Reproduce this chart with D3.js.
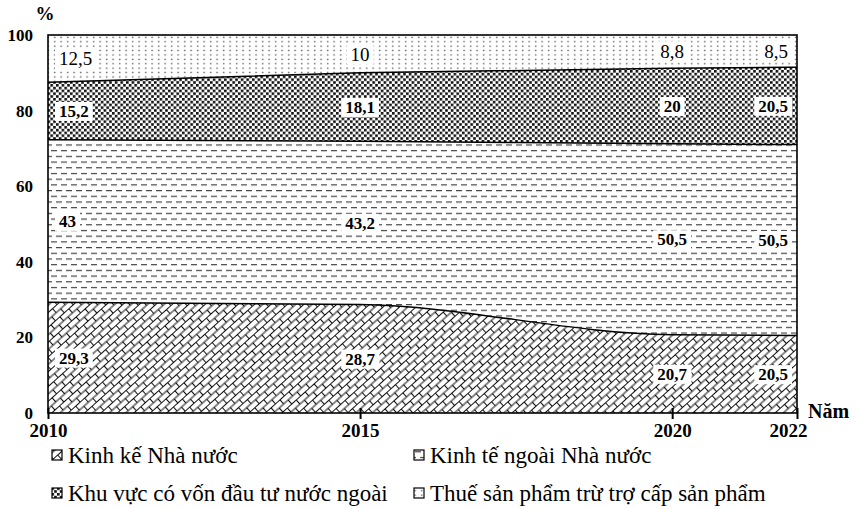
<!DOCTYPE html>
<html>
<head>
<meta charset="utf-8">
<script src="https://cdn.jsdelivr.net/npm/d3@7"></script>
<style>
  body { margin: 0; background: #fff; }
  svg { display: block; }
</style>
</head>
<body>
<script>
// ---- data ----
const years = [2010, 2015, 2020, 2022];
const stateSector = [29.3, 28.7, 20.7, 20.5];
const nonStateSector = [43, 43.2, 50.5, 50.5];
const fdiSector = [15.2, 18.1, 20, 20.5];
const productTaxes = [12.5, 10, 8.8, 8.5];
const seriesKeys = ["state", "nonstate", "fdi", "tax"];
const seriesNames = ["Kinh kế Nhà nước", "Kinh tế ngoài Nhà nước", "Khu vực có vốn đầu tư nước ngoài", "Thuế sản phẩm trừ trợ cấp sản phẩm"];
const yTicks = [0, 20, 40, 60, 80, 100];

const FONT = "'Liberation Serif', 'Times New Roman', serif";
const W = 859, H = 509;
const margin = { left: 48, right: 62, top: 35, bottom: 96 };
const x0 = margin.left, x1 = W - margin.right, y0 = H - margin.bottom, y1 = margin.top;

const svg = d3.select("body").append("svg").attr("width", W).attr("height", H)
  .style("font-family", FONT);
const defs = svg.append("defs");

// Brick pattern (state)
const pBrick = defs.append("pattern").attr("id", "p-state").attr("patternUnits", "userSpaceOnUse")
  .attr("width", 12).attr("height", 11).attr("patternTransform", "rotate(-42)");
pBrick.append("rect").attr("width", 12).attr("height", 11).attr("fill", "#fff");
pBrick.append("path").attr("d", "M0,0.5H12M0,6H12M0.5,0V6M6.5,6V11")
  .attr("stroke", "#111").attr("stroke-width", 1.1).attr("fill", "none");

// Dashed horizontal pattern (non-state)
const pDash = defs.append("pattern").attr("id", "p-nonstate").attr("patternUnits", "userSpaceOnUse")
  .attr("width", 10).attr("height", 11.4);
pDash.append("rect").attr("width", 10).attr("height", 11.4).attr("fill", "#fff");
pDash.append("path").attr("d", "M1,2.5H7M6,8.2H10M0,8.2H2")
  .attr("stroke", "#444").attr("stroke-width", 1.4).attr("fill", "none");

// Dense dots (fdi)
const pDense = defs.append("pattern").attr("id", "p-fdi").attr("patternUnits", "userSpaceOnUse")
  .attr("width", 5.6).attr("height", 5.6);
pDense.append("rect").attr("width", 5.6).attr("height", 5.6).attr("fill", "#fff");
pDense.append("rect").attr("x", 0).attr("y", 0).attr("width", 2.6).attr("height", 2.6).attr("fill", "#111");
pDense.append("rect").attr("x", 2.8).attr("y", 2.8).attr("width", 2.6).attr("height", 2.6).attr("fill", "#111");

// Sparse dots (tax)
const pSparse = defs.append("pattern").attr("id", "p-tax").attr("patternUnits", "userSpaceOnUse")
  .attr("width", 6.5).attr("height", 4.4);
pSparse.append("rect").attr("width", 6.5).attr("height", 4.4).attr("fill", "#fff");
pSparse.append("rect").attr("x", 2).attr("y", 1.5).attr("width", 1.3).attr("height", 1.3).attr("fill", "#444");

// ---- scales ----
const x = d3.scaleLinear().domain([years[0], years[years.length - 1]]).range([x0, x1]);
const y = d3.scaleLinear().domain([0, 100]).range([y0, y1]);

const table = years.map((yr, i) => ({
  year: yr, state: stateSector[i], nonstate: nonStateSector[i], fdi: fdiSector[i], tax: productTaxes[i]
}));
const series = d3.stack().keys(seriesKeys)(table);

const area = d3.area().x(d => x(d.data.year)).y0(d => y(d[0])).y1(d => y(d[1])).curve(d3.curveMonotoneX);
const line = d3.line().x(d => x(d.data.year)).y(d => y(d[1])).curve(d3.curveMonotoneX);

svg.append("g").selectAll("path").data(series).join("path")
  .attr("d", area).attr("fill", d => `url(#p-${d.key})`);

svg.append("g").selectAll("path").data(series.slice(0, 3)).join("path")
  .attr("d", line).attr("fill", "none").attr("stroke", "#000").attr("stroke-width", 1.5);

// frame
svg.append("rect").attr("x", x0).attr("y", y1).attr("width", x1 - x0).attr("height", y0 - y1)
  .attr("fill", "none").attr("stroke", "#000").attr("stroke-width", 1.6);

// ---- value labels ----
const fmt = v => String(v).replace(".", ",");
const labelG = svg.append("g");
series.forEach(s => {
  s.forEach((d, i) => {
    const isTax = s.key === "tax";
    const cx = x(d.data.year);
    const cy = y((d[0] + d[1]) / 2);
    let anchor = "middle", tx = cx;
    if (i === 0) { anchor = "start"; tx = cx + 11; }
    if (i === s.length - 1) { anchor = "end"; tx = cx - 9; }
    const g = labelG.append("g");
    const t = g.append("text").attr("x", tx).attr("y", cy).attr("dy", "0.35em")
      .attr("text-anchor", anchor)
      .style("font-family", FONT)
      .attr("font-size", isTax ? 19 : 17)
      .attr("font-weight", isTax ? "normal" : "bold")
      .attr("fill", "#000")
      .text(fmt(d.data[s.key]));
    const bb = t.node().getBBox();
    g.insert("rect", "text").attr("x", bb.x - 4).attr("y", bb.y).attr("width", bb.width + 8).attr("height", bb.height)
      .attr("fill", "#fff");
  });
});

// ---- axes ----
const yAxis = svg.append("g").attr("transform", `translate(${x0},0)`)
  .call(d3.axisLeft(y).tickValues(yTicks).tickSize(0).tickPadding(15));
yAxis.select(".domain").remove();
yAxis.selectAll("text").attr("font-size", 17).attr("font-weight", "bold").attr("fill", "#000")
  .style("font-family", FONT);

const xAxis = svg.append("g").attr("transform", `translate(0,${y0})`)
  .call(d3.axisBottom(x).tickValues(years).tickFormat(d3.format("d")).tickSize(6).tickPadding(5));
xAxis.select(".domain").remove();
xAxis.selectAll(".tick line").attr("y1", -5).attr("y2", 6).attr("stroke", "#000").attr("stroke-width", 2);
xAxis.selectAll("text").attr("font-size", 19).attr("font-weight", "bold").attr("fill", "#000")
  .style("font-family", FONT)
  .attr("dx", (d, i) => i === years.length - 1 ? -9 : 0);

svg.append("text").attr("x", 45).attr("y", 20).attr("text-anchor", "middle").style("font-family", FONT)
  .attr("font-size", 19).attr("font-weight", "bold").text("%");
svg.append("text").attr("x", 808).attr("y", 418).style("font-family", FONT)
  .attr("font-size", 20).attr("font-weight", "bold").text("Năm");

// ---- legend ----
const legendPos = [[57, 455], [419, 455], [57, 493], [419, 493]];
const legend = svg.append("g");
seriesKeys.forEach((k, i) => {
  const [lx, ly] = legendPos[i];
  const g = legend.append("g").attr("transform", `translate(${lx},${ly})`);
  g.append("rect").attr("x", -5).attr("y", -5).attr("width", 10).attr("height", 10)
    .attr("fill", `url(#p-${k})`).attr("stroke", "#000").attr("stroke-width", 1.2);
  g.append("text").attr("x", 11).attr("y", 0).attr("dy", "0.35em").style("font-family", FONT)
    .attr("font-size", 23).attr("fill", "#000").text(seriesNames[i]);
});
</script>
</body>
</html>
